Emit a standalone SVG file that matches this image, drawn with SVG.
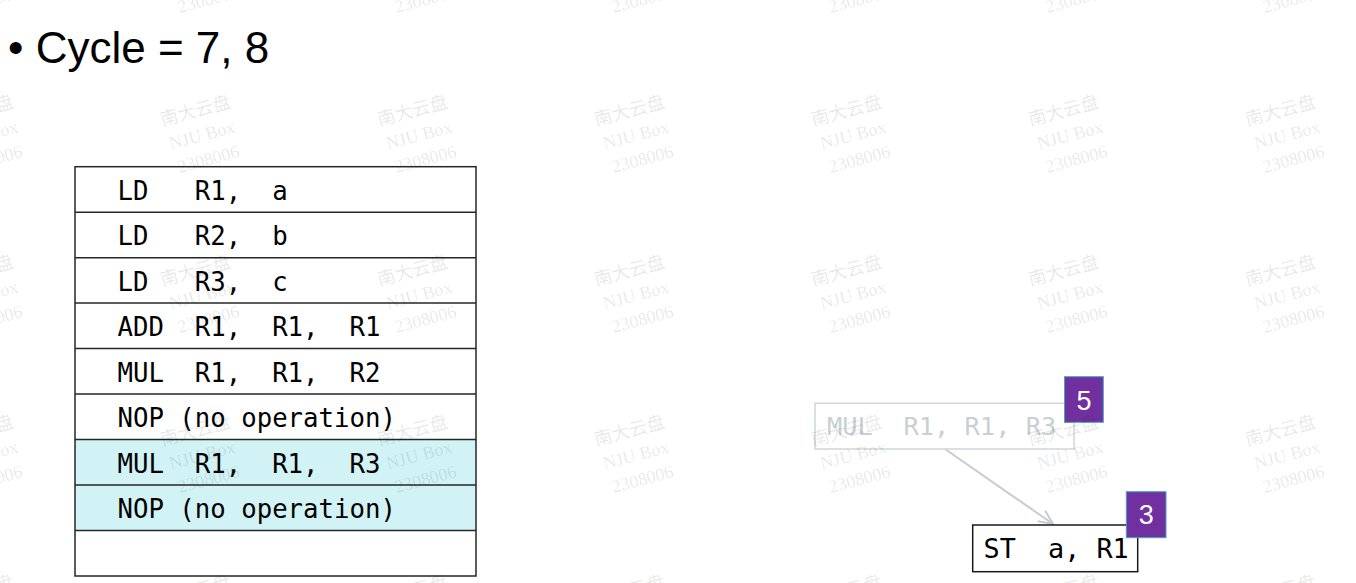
<svg xmlns="http://www.w3.org/2000/svg" width="1356" height="583" viewBox="0 0 1356 583" xml:space="preserve">
<style>
  .title { font-family: "Liberation Sans", Arial, sans-serif; font-size: 44px; fill: #000; }
  .code { font-family: "DejaVu Sans Mono", "Liberation Mono", monospace; font-size: 25.7px; fill: #000; white-space: pre; }
  .grid { stroke: #262626; stroke-width: 1.5; fill: none; }
  .hl { fill: #d1f3f5; }
  .ghost-box { fill: none; stroke: #d0d6d9; stroke-width: 1.5; }
  .ghost-text { font-family: "DejaVu Sans Mono", "Liberation Mono", monospace; font-size: 25.4px; fill: #c9d0d4; white-space: pre; }
  .st-box { fill: #fff; stroke: #1a1a1a; stroke-width: 1.5; }
  .st-text { font-family: "DejaVu Sans Mono", "Liberation Mono", monospace; font-size: 26.8px; fill: #000; white-space: pre; }
  .badge { fill: #7030a0; stroke: #45a3c4; stroke-width: 1; }
  .badge-text { font-family: "Liberation Sans", Arial, sans-serif; font-size: 27px; fill: #fff; text-anchor: middle; }
  .conn { stroke: #c6cdd1; stroke-width: 2; fill: none; }
  .wm { font-family: "Liberation Serif", "Noto Sans CJK SC", serif; font-size: 18px; fill: #000; fill-opacity: 0.1; text-anchor: middle; }
</style>
<defs>
  <marker id="open-arrow" markerUnits="userSpaceOnUse" markerWidth="18" markerHeight="16" refX="16" refY="8" orient="auto">
    <path d="M2,1.5 L16,8 L2,14.5" fill="none" stroke="#c6cdd1" stroke-width="2"/>
  </marker>
  <g id="wmark">
    <text class="wm" x="0" y="-19">南大云盘</text>
    <text class="wm" x="0" y="6">NJU Box</text>
    <text class="wm" x="0" y="31">2308006</text>
  </g>
</defs>

<rect width="1356" height="583" fill="#fff"/>

<g id="title">
  <text class="title" x="8" y="63">• Cycle = 7, 8</text>
</g>

<g id="table">
  <rect class="hl" x="75" y="439.6" width="401" height="90.9"/>
  <rect class="grid" x="75" y="166.7" width="401" height="409.3"/>
  <line class="grid" x1="75" y1="212.2" x2="476" y2="212.2"/>
  <line class="grid" x1="75" y1="257.7" x2="476" y2="257.7"/>
  <line class="grid" x1="75" y1="303.1" x2="476" y2="303.1"/>
  <line class="grid" x1="75" y1="348.6" x2="476" y2="348.6"/>
  <line class="grid" x1="75" y1="394.1" x2="476" y2="394.1"/>
  <line class="grid" x1="75" y1="439.6" x2="476" y2="439.6"/>
  <line class="grid" x1="75" y1="485.1" x2="476" y2="485.1"/>
  <line class="grid" x1="75" y1="530.5" x2="476" y2="530.5"/>
  <text class="code" x="117.5" y="199.7">LD   R1,  a</text>
  <text class="code" x="117.5" y="245.2">LD   R2,  b</text>
  <text class="code" x="117.5" y="290.7">LD   R3,  c</text>
  <text class="code" x="117.5" y="336.1">ADD  R1,  R1,  R1</text>
  <text class="code" x="117.5" y="381.6">MUL  R1,  R1,  R2</text>
  <text class="code" x="117.5" y="427.1">NOP (no operation)</text>
  <text class="code" x="117.5" y="472.6">MUL  R1,  R1,  R3</text>
  <text class="code" x="117.5" y="518.1">NOP (no operation)</text>
</g>

<g id="connectors">
  <line class="conn" x1="945" y1="449" x2="1053" y2="524" marker-end="url(#open-arrow)"/>
</g>

<g id="node-mul">
  <rect class="ghost-box" x="815" y="403.3" width="259" height="45.7"/>
  <text class="ghost-text" x="827" y="435">MUL  R1, R1, R3</text>
</g>

<g id="badge-5">
  <rect class="badge" x="1064.5" y="376.7" width="38.8" height="45.6"/>
  <text class="badge-text" x="1084" y="410">5</text>
</g>

<g id="node-st">
  <rect class="st-box" x="972.7" y="525" width="165" height="46.7"/>
  <text class="st-text" x="983.5" y="557.7">ST  a, R1</text>
</g>

<g id="badge-3">
  <rect class="badge" x="1126.3" y="491.7" width="39.7" height="46"/>
  <text class="badge-text" x="1146.2" y="524.3">3</text>
</g>

<g id="watermarks">
  <use href="#wmark" transform="translate(-15,-25) rotate(-15)"/>
  <use href="#wmark" transform="translate(202,-25) rotate(-15)"/>
  <use href="#wmark" transform="translate(419,-25) rotate(-15)"/>
  <use href="#wmark" transform="translate(636,-25) rotate(-15)"/>
  <use href="#wmark" transform="translate(853,-25) rotate(-15)"/>
  <use href="#wmark" transform="translate(1070,-25) rotate(-15)"/>
  <use href="#wmark" transform="translate(1287,-25) rotate(-15)"/>

  <use href="#wmark" transform="translate(-15,135) rotate(-15)"/>
  <use href="#wmark" transform="translate(202,135) rotate(-15)"/>
  <use href="#wmark" transform="translate(419,135) rotate(-15)"/>
  <use href="#wmark" transform="translate(636,135) rotate(-15)"/>
  <use href="#wmark" transform="translate(853,135) rotate(-15)"/>
  <use href="#wmark" transform="translate(1070,135) rotate(-15)"/>
  <use href="#wmark" transform="translate(1287,135) rotate(-15)"/>

  <use href="#wmark" transform="translate(-15,295) rotate(-15)"/>
  <use href="#wmark" transform="translate(202,295) rotate(-15)"/>
  <use href="#wmark" transform="translate(419,295) rotate(-15)"/>
  <use href="#wmark" transform="translate(636,295) rotate(-15)"/>
  <use href="#wmark" transform="translate(853,295) rotate(-15)"/>
  <use href="#wmark" transform="translate(1070,295) rotate(-15)"/>
  <use href="#wmark" transform="translate(1287,295) rotate(-15)"/>

  <use href="#wmark" transform="translate(-15,455) rotate(-15)"/>
  <use href="#wmark" transform="translate(202,455) rotate(-15)"/>
  <use href="#wmark" transform="translate(419,455) rotate(-15)"/>
  <use href="#wmark" transform="translate(636,455) rotate(-15)"/>
  <use href="#wmark" transform="translate(853,455) rotate(-15)"/>
  <use href="#wmark" transform="translate(1070,455) rotate(-15)"/>
  <use href="#wmark" transform="translate(1287,455) rotate(-15)"/>

  <use href="#wmark" transform="translate(-15,615) rotate(-15)"/>
  <use href="#wmark" transform="translate(202,615) rotate(-15)"/>
  <use href="#wmark" transform="translate(419,615) rotate(-15)"/>
  <use href="#wmark" transform="translate(636,615) rotate(-15)"/>
  <use href="#wmark" transform="translate(853,615) rotate(-15)"/>
  <use href="#wmark" transform="translate(1070,615) rotate(-15)"/>
  <use href="#wmark" transform="translate(1287,615) rotate(-15)"/>
</g>
</svg>
